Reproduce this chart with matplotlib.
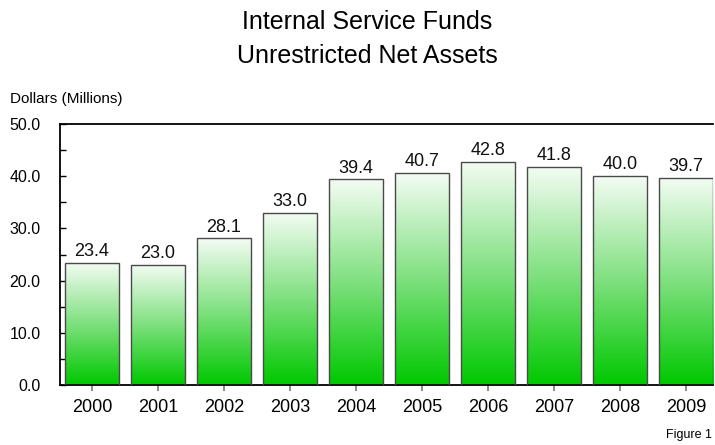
import numpy as np
import matplotlib
matplotlib.use("Agg")
import matplotlib.pyplot as plt
from matplotlib.colors import LinearSegmentedColormap

plt.rcParams['font.family'] = ['Liberation Sans', 'DejaVu Sans']

# data
years = ['2000', '2001', '2002', '2003', '2004', '2005', '2006', '2007', '2008', '2009']
net_assets = [23.4, 23.0, 28.1, 33.0, 39.4, 40.7, 42.8, 41.8, 40.0, 39.7]
y_ticks = [0, 10, 20, 30, 40, 50]

W, H = 715, 445
fig = plt.figure(figsize=(W/100, H/100), dpi=100)
ax = fig.add_axes([60/W, 1-385/H, 653/W, 261/H])

x = np.arange(len(years))
bars = ax.bar(x, net_assets, width=0.82, facecolor='none', edgecolor='#4a4a4a',
              linewidth=1.0, zorder=3)

# white-to-green fill inside each bar
green = LinearSegmentedColormap.from_list('g', ['#00c800', '#7fe07f', '#f4fcf4'])
grad = np.linspace(0, 1, 256).reshape(-1, 1)
for b in bars:
    x0, y0 = b.get_x(), b.get_y()
    w, h = b.get_width(), b.get_height()
    im = ax.imshow(grad, cmap=green, origin='lower', aspect='auto',
                   extent=(x0, x0 + w, y0, y0 + h), zorder=2)
    im.set_clip_path(b)

for xi, v in zip(x, net_assets):
    ax.annotate(f'{v:.1f}', (xi, v), xytext=(0, 2), textcoords='offset points',
                ha='center', va='bottom', fontsize=13, color='#111111')

ax.set_xlim(-0.485, 9.41)
ax.set_ylim(0, 50)
ax.set_xticks(x)
ax.set_xticklabels(years, fontsize=13)
ax.set_yticks(y_ticks)
ax.set_yticklabels([f'{t:.1f}' for t in y_ticks], fontsize=11.5)
ax.set_yticks(np.arange(5, 50, 10), minor=True)
ax.tick_params(axis='y', which='both', direction='in', length=4, width=1, pad=14)
ax.tick_params(axis='x', direction='out', length=4, width=1.2, color='#777777', pad=6)

ax.spines['right'].set_visible(False)
for s in ['left', 'top', 'bottom']:
    ax.spines[s].set_linewidth(1.3)
    ax.spines[s].set_color('black')

fig.text(367/W, 1-29/H, 'Internal Service Funds', ha='center', va='baseline',
         fontsize=18)
fig.text(367/W, 1-63/H, 'Unrestricted Net Assets', ha='center', va='baseline',
         fontsize=18)
fig.text(10/W, 1-99/H, 'Dollars (Millions)', ha='left', va='center', fontsize=11)
fig.text(712/W, 1-435/H, 'Figure 1', ha='right', va='center', fontsize=9)

fig.savefig('out.png', dpi=100)
